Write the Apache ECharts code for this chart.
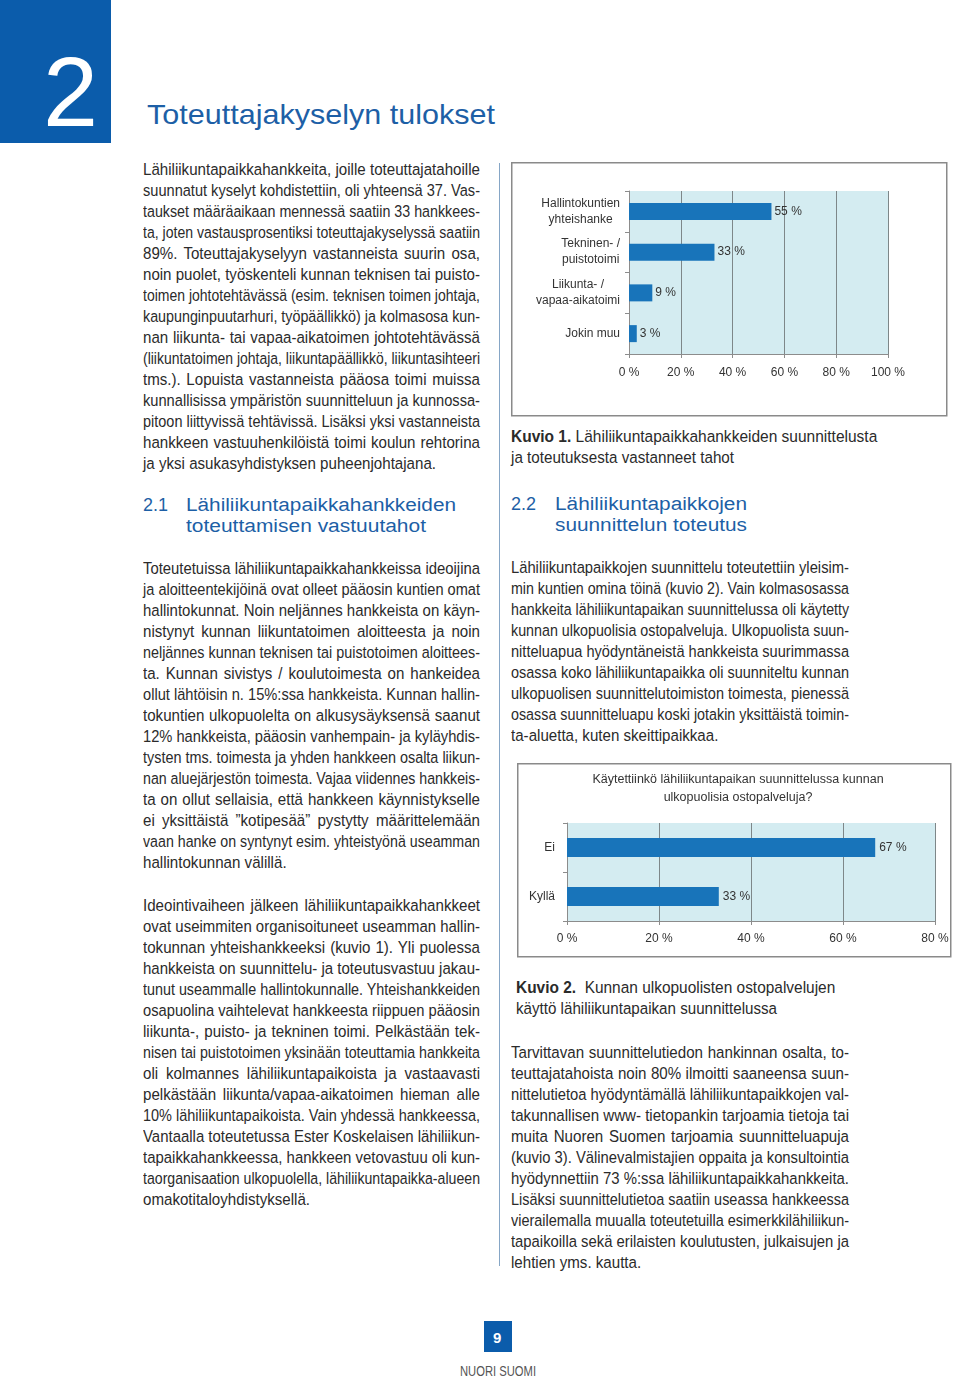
<!DOCTYPE html>
<html><head><meta charset="utf-8">
<script src="https://cdn.jsdelivr.net/npm/echarts@6/dist/echarts.min.js"></script>
<style>
html,body{margin:0;padding:0;background:#fff;}
body{width:960px;height:1377px;position:relative;overflow:hidden;font-family:"Liberation Sans",Arial,Helvetica,sans-serif;color:#2b2b2b;}
.ln{position:absolute;white-space:nowrap;transform-origin:0 50%;}
.abs{position:absolute;}
</style></head><body>
<div class="abs" style="left:0;top:0;width:111px;height:143px;background:#0b5cab"></div>
<div class="abs" style="left:499px;top:163px;width:1px;height:1103px;background:#86a6c6"></div>
<div class="abs" style="left:484px;top:1321px;width:28px;height:31px;background:#0b5cab"></div>
<div id="c1" class="abs" style="left:511px;top:162px;width:437px;height:255px"></div>
<div id="c2" class="abs" style="left:517px;top:763px;width:435px;height:195px"></div>
<script>
// ---------- chart data ----------
const cats1 = ['Hallintokuntien\nyhteishanke', 'Tekninen- /\npuistotoimi', 'Liikunta- /\nvapaa-aikatoimi', 'Jokin muu'];
const vals1 = [55, 33, 9, 3];
const axisMax1 = 100, axisStep1 = 20;

const title2 = 'Käytettiinkö lähiliikuntapaikan suunnittelussa kunnan\nulkopuolisia ostopalveluja?';
const cats2 = ['Ei', 'Kyllä'];
const vals2 = [67, 33];
const axisMax2 = 80, axisStep2 = 20;

// ---------- page text ----------
const para1 = [
'Lähiliikuntapaikkahankkeita, joille toteuttajatahoille',
'suunnatut kyselyt kohdistettiin, oli yhteensä 37. Vas-',
'taukset määräaikaan mennessä saatiin 33 hankkees-',
'ta, joten vastausprosentiksi toteuttajakyselyssä saatiin',
'89%.  Toteuttajakyselyyn vastanneista suurin osa,',
'noin puolet, työskenteli kunnan teknisen tai puisto-',
'toimen johtotehtävässä (esim. teknisen toimen johtaja,',
'kaupunginpuutarhuri, työpäällikkö) ja kolmasosa kun-',
'nan liikunta- tai vapaa-aikatoimen johtotehtävässä',
'(liikuntatoimen johtaja, liikuntapäällikkö, liikuntasihteeri',
'tms.). Lopuista vastanneista pääosa toimi muissa',
'kunnallisissa ympäristön suunnitteluun ja kunnossa-',
'pitoon liittyvissä tehtävissä. Lisäksi yksi vastanneista',
'hankkeen vastuuhenkilöistä toimi koulun rehtorina',
'ja yksi asukasyhdistyksen puheenjohtajana.'];
const para2 = [
'Toteutetuissa lähiliikuntapaikkahankkeissa ideoijina',
'ja aloitteentekijöinä ovat olleet pääosin kuntien omat',
'hallintokunnat. Noin neljännes hankkeista on käyn-',
'nistynyt kunnan liikuntatoimen aloitteesta ja noin',
'neljännes kunnan teknisen tai puistotoimen aloittees-',
'ta. Kunnan sivistys / koulutoimesta on hankeidea',
'ollut lähtöisin n. 15%:ssa hankkeista. Kunnan hallin-',
'tokuntien ulkopuolelta on alkusysäyksensä saanut',
'12% hankkeista, pääosin vanhempain- ja kyläyhdis-',
'tysten tms. toimesta ja yhden hankkeen osalta liikun-',
'nan aluejärjestön toimesta. Vajaa viidennes hankkeis-',
'ta on ollut sellaisia, että hankkeen käynnistykselle',
'ei yksittäistä ”kotipesää” pystytty määrittelemään',
'vaan hanke on syntynyt esim. yhteistyönä useamman',
'hallintokunnan välillä.'];
const para3 = [
'Ideointivaiheen jälkeen lähiliikuntapaikkahankkeet',
'ovat useimmiten organisoituneet useamman hallin-',
'tokunnan yhteishankkeeksi (kuvio 1). Yli puolessa',
'hankkeista on suunnittelu- ja toteutusvastuu jakau-',
'tunut useammalle hallintokunnalle. Yhteishankkeiden',
'osapuolina vaihtelevat hankkeesta riippuen pääosin',
'liikunta-, puisto- ja tekninen toimi.  Pelkästään tek-',
'nisen tai puistotoimen yksinään toteuttamia hankkeita',
'oli kolmannes lähiliikuntapaikoista ja vastaavasti',
'pelkästään liikunta/vapaa-aikatoimen hieman alle',
'10% lähiliikuntapaikoista. Vain yhdessä hankkeessa,',
'Vantaalla toteutetussa Ester Koskelaisen lähiliikun-',
'tapaikkahankkeessa, hankkeen vetovastuu oli kun-',
'taorganisaation ulkopuolella, lähiliikuntapaikka-alueen',
'omakotitaloyhdistyksellä.'];
const para4 = [
'Lähiliikuntapaikkojen suunnittelu toteutettiin yleisim-',
'min kuntien omina töinä (kuvio 2). Vain kolmasosassa',
'hankkeita lähiliikuntapaikan suunnittelussa oli käytetty',
'kunnan ulkopuolisia ostopalveluja. Ulkopuolista suun-',
'nitteluapua hyödyntäneistä hankkeista suurimmassa',
'osassa koko lähiliikuntapaikka oli suunniteltu kunnan',
'ulkopuolisen suunnittelutoimiston toimesta, pienessä',
'osassa suunnitteluapu koski jotakin yksittäistä toimin-',
'ta-aluetta, kuten skeittipaikkaa.'];
const para5 = [
'Tarvittavan suunnittelutiedon hankinnan osalta, to-',
'teuttajatahoista noin 80% ilmoitti saaneensa suun-',
'nittelutietoa hyödyntämällä lähiliikuntapaikkojen val-',
'takunnallisen www- tietopankin tarjoamia tietoja tai',
'muita Nuoren Suomen tarjoamia suunnitteluapuja',
'(kuvio 3). Välinevalmistajien oppaita ja konsultointia',
'hyödynnettiin 73 %:ssa lähiliikuntapaikkahankkeita.',
'Lisäksi suunnittelutietoa saatiin useassa hankkeessa',
'vierailemalla muualla toteutetuilla esimerkkilähiliikun-',
'tapaikoilla sekä erilaisten koulutusten, julkaisujen ja',
'lehtien yms. kautta.'];

const BODY_FS = 16.8, BODY_SX = 0.9, LH = 21;
function measure(text, css){
  const s = document.createElement('span');
  s.style.cssText = 'position:absolute;visibility:hidden;white-space:pre;' + css;
  s.textContent = text; document.body.appendChild(s);
  const w = s.getBoundingClientRect().width; s.remove(); return w;
}
function line(text, x, yc, o){
  o = o || {};
  const fs = o.fs || BODY_FS, sx0 = o.sx || BODY_SX, lh = o.lh || LH;
  const css = 'font-size:' + fs + 'px;font-weight:' + (o.bold ? 'bold' : 'normal') + ';font-family:' + (o.ff || '"Liberation Sans",Arial,sans-serif') + ';';
  const d = document.createElement('div');
  d.className = 'ln';
  d.style.cssText += css + 'left:' + x + 'px;top:' + (yc - lh / 2) + 'px;height:' + lh + 'px;line-height:' + lh + 'px;color:' + (o.color || '#2b2b2b') + ';';
  const nat = measure(text, css);
  let sx = sx0;
  if (o.fitW) { sx = o.fitW / nat; }
  if (o.w) {
    if (nat * sx > o.w) sx = o.w / nat;
    if (o.justify) {
      d.style.width = (o.w / sx) + 'px';
      d.style.textAlign = 'justify';
      d.style.textAlignLast = 'justify';
      d.style.whiteSpace = 'normal';
    }
  }
  d.style.transform = 'scaleX(' + sx + ')';
  if (o.html) d.innerHTML = o.html; else d.textContent = text;
  document.body.appendChild(d);
}
function para(lines, x, y0, w){
  lines.forEach((t, i) => line(t, x, y0 + i * LH, {w: w, justify: i < lines.length - 1}));
}
para(para1, 143, 169, 337);
para(para2, 143, 568, 337);
para(para3, 143, 905, 337);
para(para4, 511, 567, 338);
para(para5, 511, 1052, 338);

const BLUE = '#1d5fa6';
line('2', 43, 92, {fs: 99, sx: 1, lh: 110, color: '#ffffff'});
line('Toteuttajakyselyn tulokset', 147, 115, {fs: 28, lh: 36, color: BLUE, fitW: 348});
line('2.1', 143, 505, {fs: 18, lh: 22, color: BLUE, sx: 1});
line('Lähiliikuntapaikkahankkeiden', 186, 505, {fs: 18, lh: 22, color: BLUE, fitW: 270});
line('toteuttamisen vastuutahot', 186, 526, {fs: 18, lh: 22, color: BLUE, fitW: 240});
line('2.2', 511, 504, {fs: 18, lh: 22, color: BLUE, sx: 1});
line('Lähiliikuntapaikkojen', 555, 504, {fs: 18, lh: 22, color: BLUE, fitW: 192});
line('suunnittelun toteutus', 555, 525, {fs: 18, lh: 22, color: BLUE, fitW: 192});

line('Kuvio 1. Lähiliikuntapaikkahankkeiden suunnittelusta', 511, 436, {fitW: 362, html: '<b>Kuvio 1.</b> Lähiliikuntapaikkahankkeiden suunnittelusta'});
line('ja toteutuksesta vastanneet tahot', 511, 457, {fitW: 223});
line('Kuvio 2.  Kunnan ulkopuolisten ostopalvelujen', 516, 987, {fitW: 315, html: '<b>Kuvio 2.</b>&nbsp; Kunnan ulkopuolisten ostopalvelujen'});
line('käyttö lähiliikuntapaikan suunnittelussa', 516, 1008, {fitW: 261});

line('9', 493, 1337, {fs: 15, bold: true, sx: 1, color: '#ffffff'});
line('NUORI SUOMI', 460, 1371, {fs: 14, color: '#555555', fitW: 76});

// ---------- charts ----------
const FF = '"Liberation Sans",Arial,sans-serif';
const AX = '#8c8c8c', GRID = '#7e8789', BAR = '#1874ba', BG = '#d4ecf1', TXT = '#333333';

const ch1 = echarts.init(document.getElementById('c1'), null, {renderer: 'canvas'});
ch1.setOption({
  animation: false,
  textStyle: {fontFamily: FF},
  graphic: [{type: 'rect', silent: true, shape: {x: 0.75, y: 0.75, width: 435, height: 253},
             style: {fill: 'none', stroke: '#8a8a8a', lineWidth: 1.5}}],
  grid: {left: 118, right: 60, top: 29, bottom: 63, show: true, backgroundColor: BG, borderWidth: 0},
  xAxis: {type: 'value', min: 0, max: axisMax1, interval: axisStep1,
    axisLine: {show: true, lineStyle: {color: AX}},
    axisTick: {show: true, length: 4, lineStyle: {color: AX}},
    splitLine: {show: true, lineStyle: {color: GRID, width: 1}},
    axisLabel: {formatter: '{value} %', margin: 13, color: TXT, fontSize: 12, fontFamily: FF}},
  yAxis: {type: 'category', data: cats1, inverse: true,
    axisLine: {show: true, lineStyle: {color: AX}},
    axisTick: {show: true, length: 4, lineStyle: {color: AX}},
    splitLine: {show: false},
    axisLabel: {margin: 9, formatter: v => v.split('\n').map(s => '{c|' + s + '}').join('\n'),
      rich: {c: {align: 'center', fontSize: 12, color: TXT, lineHeight: 16, fontFamily: FF}}}},
  series: [{type: 'bar', data: vals1, barWidth: 17, itemStyle: {color: BAR},
    label: {show: true, position: 'right', distance: 3, formatter: '{c} %', color: TXT, fontSize: 12, fontFamily: FF}}]
});

const ch2 = echarts.init(document.getElementById('c2'), null, {renderer: 'canvas'});
ch2.setOption({
  animation: false,
  textStyle: {fontFamily: FF},
  graphic: [
    {type: 'rect', silent: true, shape: {x: 0.75, y: 0.75, width: 433, height: 193},
     style: {fill: 'none', stroke: '#8a8a8a', lineWidth: 1.5}},
    {type: 'text', silent: true, x: 221, y: 8,
     style: {text: title2, align: 'center', verticalAlign: 'top', fontSize: 12.5, lineHeight: 18, fill: TXT, fontFamily: FF}}
  ],
  grid: {left: 50, right: 17, top: 60, bottom: 37, show: true, backgroundColor: BG, borderWidth: 0},
  xAxis: {type: 'value', min: 0, max: axisMax2, interval: axisStep2,
    axisLine: {show: true, lineStyle: {color: AX}},
    axisTick: {show: true, length: 4, lineStyle: {color: AX}},
    splitLine: {show: true, lineStyle: {color: GRID, width: 1}},
    axisLabel: {formatter: '{value} %', margin: 12, color: TXT, fontSize: 12, fontFamily: FF}},
  yAxis: {type: 'category', data: cats2, inverse: true,
    axisLine: {show: true, lineStyle: {color: AX}},
    axisTick: {show: true, length: 4, lineStyle: {color: AX}},
    axisLabel: {margin: 12, color: TXT, fontSize: 12, fontFamily: FF}},
  series: [{type: 'bar', data: vals2, barWidth: 19, itemStyle: {color: BAR},
    label: {show: true, position: 'right', distance: 4, formatter: '{c} %', color: TXT, fontSize: 12, fontFamily: FF}}]
});
</script>
</body></html>
